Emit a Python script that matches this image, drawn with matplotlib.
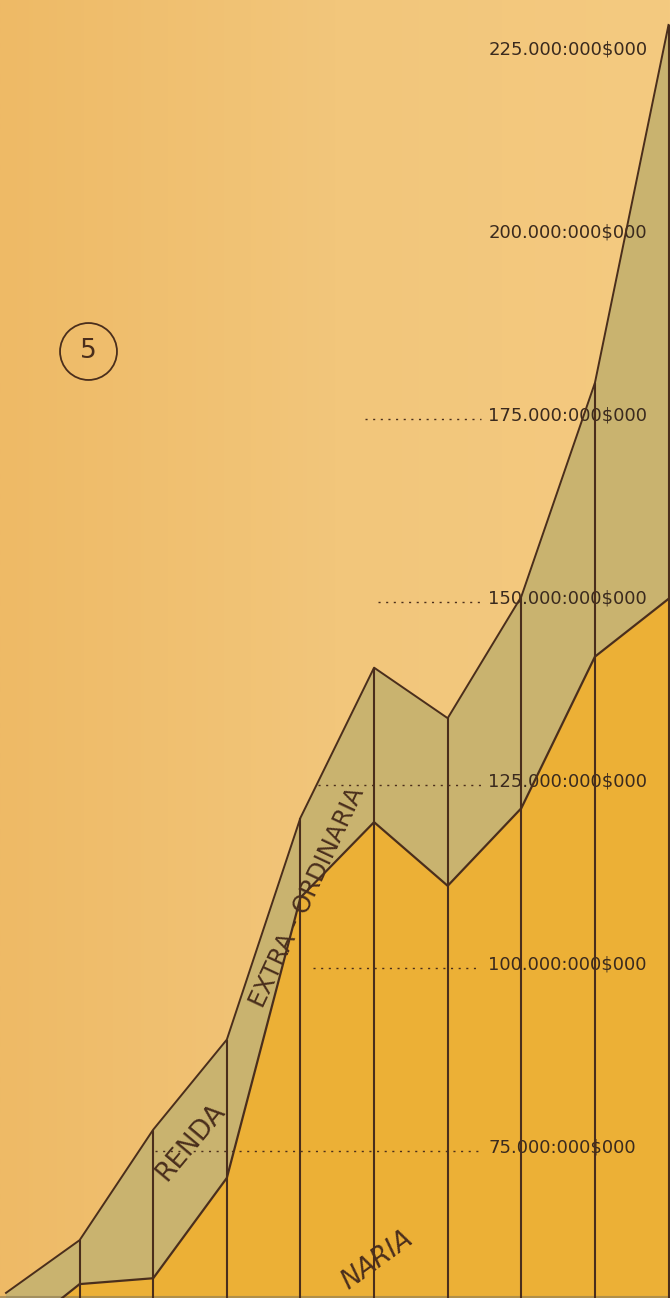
import matplotlib
matplotlib.use("Agg")
import matplotlib.pyplot as plt
import numpy as np
from matplotlib.colors import LinearSegmentedColormap

# columns (years are cut off in the source, so plain indices)
cols = list(range(10))
# revenue in millions of reis
ordinaria = [48.4, 56.4, 57.2, 70.9, 109.2, 119.5, 110.8, 121.4, 142.1, 150.0]
extra = [6.8, 6.0, 20.3, 18.9, 10.9, 21.1, 22.9, 28.9, 37.4, 78.4]
total = [o + e for o, e in zip(ordinaria, extra)]

tick_vals = [75, 100, 125, 150, 175, 200, 225]
tick_labels = ["75.000:000$000", "100.000:000$000", "125.000:000$000",
               "150.000:000$000", "175.000:000$000", "200.000:000$000",
               "225.000:000$000"]
# left end of the dotted guide for each tick (None = no guide)
guide_start = [2.02, 4.17, 4.24, 5.05, 4.88, None, None]

bg = "#F2C67A"
c_ord = "#ECB036"
c_ext = "#C9B36F"
ink = "#4A2E1C"

fig = plt.figure(figsize=(6.7, 12.98), dpi=100)
fig.patch.set_facecolor(bg)
ax = fig.add_axes([0, 0, 1, 1])
ax.set_xlim(-0.0815, 9.02)
ax.set_ylim(54.5, 231.8)
ax.axis("off")

# paper tone, a bit more orange on the left
paper = LinearSegmentedColormap.from_list("paper", ["#EEBA66", "#F2C67B", "#F4CA80"])
grad = np.linspace(0, 1, 256).reshape(1, -1)
ax.imshow(grad, cmap=paper, extent=(-0.0815, 9.02, 54.5, 231.8), aspect="auto", zorder=0)

ax.fill_between(cols, ordinaria, total, color=c_ext, lw=0, zorder=1)
ax.fill_between(cols, 0, ordinaria, color=c_ord, lw=0, zorder=1)
ax.plot(cols, total, color=ink, lw=1.4, zorder=3)
ax.plot(cols, ordinaria, color=ink, lw=1.6, zorder=3)
ax.vlines(cols[1:], 0, total[1:], color=ink, lw=1.5, zorder=3)
ax.axhline(54.7, color="#8a7a55", lw=1.5, alpha=0.6, zorder=2)

for v, lab, g in zip(tick_vals, tick_labels, guide_start):
    if g is not None:
        ax.plot([g, 6.45], [v - 0.4, v - 0.4], color=ink, lw=1, ls=(0, (1.5, 4)), zorder=2)
    ax.text(6.55, v, lab, fontsize=13, color="#3a2a1e", va="center", ha="left",
            family="DejaVu Sans", zorder=2)

ax.text(2.51, 75.8, "RENDA", rotation=50, fontsize=19, color=ink,
        ha="center", va="center", family="DejaVu Sans", zorder=4)
ax.text(4.10, 109.2, "EXTRA - ORDINARIA", rotation=65, fontsize=17.5, color=ink,
        ha="center", va="center", family="DejaVu Sans", zorder=4)
ax.text(5.05, 59.6, "NARIA", rotation=36, fontsize=19, color=ink,
        ha="center", va="center", style="italic", family="DejaVu Sans", zorder=4)

ax.plot([1.114], [183.8], marker="o", ms=41, mfc="none", mec=ink, mew=1.3, zorder=4)
ax.text(1.114, 183.8, "5", fontsize=19, color=ink, ha="center", va="center",
        family="DejaVu Sans", zorder=4)

fig.savefig("out.png", dpi=100, facecolor=bg)
